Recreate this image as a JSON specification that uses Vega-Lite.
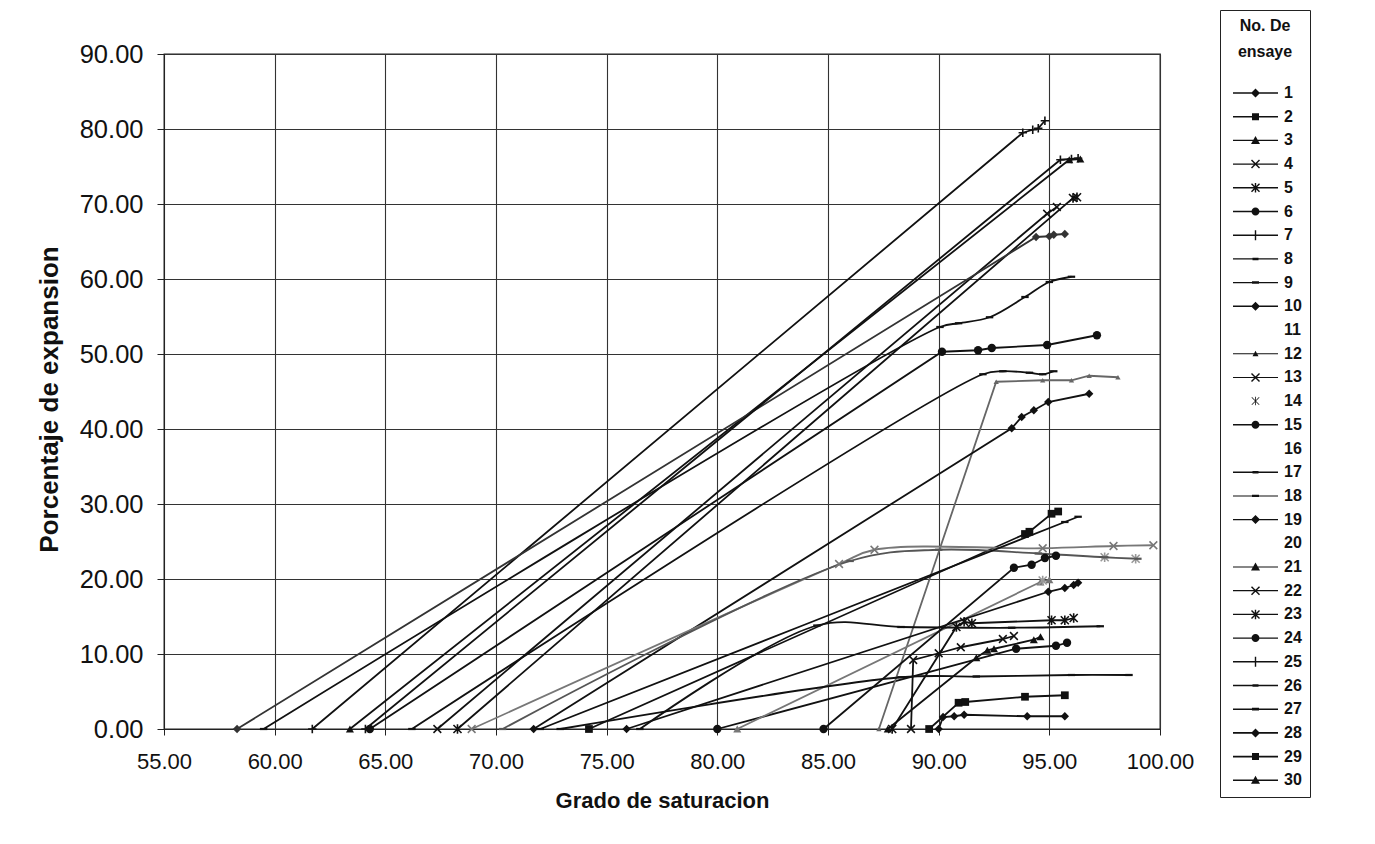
{
"$schema":"https://vega.github.io/schema/vega-lite/v6.json",
"width":996,"height":675,
"autosize":{"type":"none"},
"padding":{"left":164,"top":54,"right":215,"bottom":115},
"background":"white",
"config":{"font":"Liberation Sans","view":{"stroke":"#222","strokeWidth":1.3},
"axis":{"gridColor":"#333","gridWidth":1.1,"gridOpacity":1,"domainColor":"#222","tickColor":"#222","labelColor":"#111","titleColor":"#111","labelFont":"Liberation Sans","titleFont":"Liberation Sans"}},
"data":{"values":[
{"ensaye":"1","grado":90.0,"expansion":0},{"ensaye":"1","grado":90.2,"expansion":1.6},{"ensaye":"1","grado":90.7,"expansion":1.7},{"ensaye":"1","grado":91.15,"expansion":1.9},{"ensaye":"1","grado":94.0,"expansion":1.7},{"ensaye":"1","grado":95.7,"expansion":1.7},
{"ensaye":"2","grado":89.57,"expansion":0},{"ensaye":"2","grado":90.9,"expansion":3.5},{"ensaye":"2","grado":91.2,"expansion":3.6},{"ensaye":"2","grado":93.9,"expansion":4.3},{"ensaye":"2","grado":95.7,"expansion":4.5},
{"ensaye":"3","grado":63.4,"expansion":0},{"ensaye":"3","grado":95.9,"expansion":75.9},{"ensaye":"3","grado":96.4,"expansion":76.0},
{"ensaye":"4","grado":67.35,"expansion":0},{"ensaye":"4","grado":94.9,"expansion":68.7},{"ensaye":"4","grado":95.34,"expansion":69.6},
{"ensaye":"5","grado":68.26,"expansion":0},{"ensaye":"5","grado":96.07,"expansion":70.8},{"ensaye":"5","grado":96.25,"expansion":70.9},
{"ensaye":"6","grado":80.0,"expansion":0},{"ensaye":"6","grado":93.5,"expansion":10.7},{"ensaye":"6","grado":95.3,"expansion":11.1},{"ensaye":"6","grado":95.8,"expansion":11.5},
{"ensaye":"7","grado":61.7,"expansion":0},{"ensaye":"7","grado":93.8,"expansion":79.5},{"ensaye":"7","grado":94.25,"expansion":79.9},{"ensaye":"7","grado":94.5,"expansion":80.1},{"ensaye":"7","grado":94.8,"expansion":81.1},
{"ensaye":"8","grado":59.5,"expansion":0},{"ensaye":"8","grado":90.06,"expansion":53.6},{"ensaye":"8","grado":90.9,"expansion":54.1},{"ensaye":"8","grado":92.3,"expansion":54.9},{"ensaye":"8","grado":93.9,"expansion":57.6},{"ensaye":"8","grado":95.0,"expansion":59.6},{"ensaye":"8","grado":96.0,"expansion":60.3},
{"ensaye":"9","grado":66.2,"expansion":0},{"ensaye":"9","grado":92.0,"expansion":47.3},{"ensaye":"9","grado":92.9,"expansion":47.7},{"ensaye":"9","grado":94.1,"expansion":47.5},{"ensaye":"9","grado":94.7,"expansion":47.3},{"ensaye":"9","grado":95.2,"expansion":47.7},
{"ensaye":"10","grado":58.3,"expansion":0},{"ensaye":"10","grado":94.4,"expansion":65.6},{"ensaye":"10","grado":95.0,"expansion":65.7},{"ensaye":"10","grado":95.2,"expansion":65.9},{"ensaye":"10","grado":95.7,"expansion":66.0},
{"ensaye":"12","grado":87.3,"expansion":0},{"ensaye":"12","grado":92.6,"expansion":46.3},{"ensaye":"12","grado":94.7,"expansion":46.5},{"ensaye":"12","grado":96.0,"expansion":46.5},{"ensaye":"12","grado":96.8,"expansion":47.1},{"ensaye":"12","grado":98.1,"expansion":46.9},
{"ensaye":"13","grado":68.9,"expansion":0},{"ensaye":"13","grado":85.5,"expansion":22.0},{"ensaye":"13","grado":87.1,"expansion":23.9},{"ensaye":"13","grado":94.7,"expansion":24.1},{"ensaye":"13","grado":97.9,"expansion":24.4},{"ensaye":"13","grado":99.7,"expansion":24.5},
{"ensaye":"14","grado":94.7,"expansion":19.8},{"ensaye":"14","grado":97.5,"expansion":22.9},{"ensaye":"14","grado":98.9,"expansion":22.7},
{"ensaye":"15","grado":64.3,"expansion":0},{"ensaye":"15","grado":90.15,"expansion":50.3},{"ensaye":"15","grado":91.78,"expansion":50.5},{"ensaye":"15","grado":92.4,"expansion":50.8},{"ensaye":"15","grado":94.9,"expansion":51.2},{"ensaye":"15","grado":97.15,"expansion":52.5},
{"ensaye":"17","grado":72.9,"expansion":0},{"ensaye":"17","grado":88.3,"expansion":6.9},{"ensaye":"17","grado":91.7,"expansion":7.0},{"ensaye":"17","grado":96.0,"expansion":7.2},{"ensaye":"17","grado":98.6,"expansion":7.2},
{"ensaye":"18","grado":70.3,"expansion":0},{"ensaye":"18","grado":86.0,"expansion":22.4},{"ensaye":"18","grado":90.0,"expansion":23.9},{"ensaye":"18","grado":94.5,"expansion":23.4},{"ensaye":"18","grado":97.5,"expansion":22.9},{"ensaye":"18","grado":99.0,"expansion":22.7},
{"ensaye":"19","grado":71.7,"expansion":0},{"ensaye":"19","grado":93.3,"expansion":40.1},{"ensaye":"19","grado":93.75,"expansion":41.6},{"ensaye":"19","grado":94.3,"expansion":42.5},{"ensaye":"19","grado":94.95,"expansion":43.6},{"ensaye":"19","grado":96.8,"expansion":44.7},
{"ensaye":"21","grado":80.9,"expansion":0},{"ensaye":"21","grado":94.6,"expansion":19.6},{"ensaye":"21","grado":95.0,"expansion":19.9},
{"ensaye":"22","grado":88.75,"expansion":0},{"ensaye":"22","grado":88.85,"expansion":9.2},{"ensaye":"22","grado":90.0,"expansion":10.1},{"ensaye":"22","grado":91.0,"expansion":10.9},{"ensaye":"22","grado":92.9,"expansion":12.0},{"ensaye":"22","grado":93.4,"expansion":12.4},
{"ensaye":"23","grado":87.9,"expansion":0},{"ensaye":"23","grado":90.8,"expansion":13.6},{"ensaye":"23","grado":91.15,"expansion":14.3},{"ensaye":"23","grado":91.5,"expansion":14.1},{"ensaye":"23","grado":95.1,"expansion":14.5},{"ensaye":"23","grado":95.7,"expansion":14.5},{"ensaye":"23","grado":96.1,"expansion":14.8},
{"ensaye":"24","grado":84.8,"expansion":0},{"ensaye":"24","grado":93.4,"expansion":21.5},{"ensaye":"24","grado":94.2,"expansion":21.9},{"ensaye":"24","grado":94.8,"expansion":22.8},{"ensaye":"24","grado":95.3,"expansion":23.1},
{"ensaye":"25","grado":64.1,"expansion":0},{"ensaye":"25","grado":95.5,"expansion":75.9},{"ensaye":"25","grado":96.0,"expansion":76.0},{"ensaye":"25","grado":96.3,"expansion":76.1},
{"ensaye":"26","grado":76.5,"expansion":0},{"ensaye":"26","grado":84.5,"expansion":13.8},{"ensaye":"26","grado":88.3,"expansion":13.6},{"ensaye":"26","grado":93.3,"expansion":13.5},{"ensaye":"26","grado":97.3,"expansion":13.7},
{"ensaye":"27","grado":72.0,"expansion":0},{"ensaye":"27","grado":95.7,"expansion":27.6},{"ensaye":"27","grado":96.3,"expansion":28.3},
{"ensaye":"28","grado":75.9,"expansion":0},{"ensaye":"28","grado":94.95,"expansion":18.3},{"ensaye":"28","grado":95.7,"expansion":18.8},{"ensaye":"28","grado":96.1,"expansion":19.2},{"ensaye":"28","grado":96.3,"expansion":19.5},
{"ensaye":"29","grado":74.2,"expansion":0},{"ensaye":"29","grado":93.9,"expansion":26.0},{"ensaye":"29","grado":94.1,"expansion":26.3},{"ensaye":"29","grado":95.1,"expansion":28.7},{"ensaye":"29","grado":95.4,"expansion":29.0},
{"ensaye":"30","grado":87.7,"expansion":0},{"ensaye":"30","grado":91.7,"expansion":9.5},{"ensaye":"30","grado":92.2,"expansion":10.5},{"ensaye":"30","grado":92.5,"expansion":10.7},{"ensaye":"30","grado":94.3,"expansion":11.9},{"ensaye":"30","grado":94.6,"expansion":12.3}
]},
"encoding":{
"x":{"field":"grado","type":"quantitative","scale":{"domain":[55,100],"nice":false,"zero":false},
"axis":{"values":[55,60,65,70,75,80,85,90,95,100],"format":".2f","title":"Grado de saturacion","labelFontSize":22,"tickSize":6,"labelPadding":16,"titleFontSize":22,"titleFontWeight":"bold","titlePadding":18,"labelFlush":false,"labelOverlap":false,"grid":true}},
"y":{"field":"expansion","type":"quantitative","scale":{"domain":[0,90],"nice":false},
"axis":{"values":[0,10,20,30,40,50,60,70,80,90],"format":".2f","title":"Porcentaje de expansion","labelFontSize":25.5,"tickSize":7,"labelPadding":14,"titleFontSize":26,"titleFontWeight":"bold","titlePadding":17,"titleY":345,"labelFlush":false,"labelOverlap":false,"grid":true}},
"color":{"field":"ensaye","type":"nominal","scale":{"domain":["1","2","3","4","5","6","7","8","9","10","12","13","14","15","17","18","19","21","22","23","24","25","26","27","28","29","30"],"range":["#111","#111","#111","#111","#111","#111","#111","#111","#111","#333","#666","#777","#999","#111","#111","#555","#111","#777","#111","#111","#111","#111","#111","#111","#111","#111","#111"]},"legend":null}
},
"layer":[
{"transform":[{"filter":{"field":"ensaye","oneOf":["1","2","3","4","5","6","7","10","12","15","19","21","22","23","24","25","28","29","30"]}}],
"mark":{"type":"line"},
"encoding":{
"strokeWidth":{"field":"ensaye","type":"nominal","scale":{"domain":["1","2","3","4","5","6","7","8","9","10","12","13","14","15","17","18","19","21","22","23","24","25","26","27","28","29","30"],"range":[1.8,1.8,1.8,1.3,1.6,1.8,1.9,1.8,1.6,1.4,1.1,1.1,1,1.6,1.8,1.1,1.6,1.1,1.3,1.6,1.6,1.6,1.6,1.8,1.8,1.8,1.8]},"legend":null}}},
{"transform":[{"filter":{"field":"ensaye","oneOf":["8","9","13","17","18","26","27"]}}],
"mark":{"type":"line","interpolate":"catmull-rom"},
"encoding":{"strokeWidth":{"field":"ensaye","type":"nominal","legend":null}}},
{"transform":[{"filter":{"field":"ensaye","oneOf":["1","10","19","28"]}}],
"mark":{"type":"point","shape":"diamond","filled":true,"size":70,"opacity":1}},
{"transform":[{"filter":{"field":"ensaye","oneOf":["2","29"]}}],
"mark":{"type":"point","shape":"square","filled":true,"size":60,"opacity":1}},
{"transform":[{"filter":{"field":"ensaye","oneOf":["3","21","30"]}}],
"mark":{"type":"point","shape":"triangle-up","filled":true,"size":65,"opacity":1}},
{"transform":[{"filter":{"field":"ensaye","oneOf":["12"]}}],
"mark":{"type":"point","shape":"triangle-up","filled":true,"size":28,"opacity":1}},
{"transform":[{"filter":{"field":"ensaye","oneOf":["4","13","22"]}}],
"mark":{"type":"point","shape":"M-1,-1L1,1M-1,1L1,-1","filled":false,"strokeWidth":1.5,"size":60,"opacity":1}},
{"transform":[{"filter":{"field":"ensaye","oneOf":["5","14","23"]}}],
"mark":{"type":"point","shape":"M-1,-1L1,1M-1,1L1,-1M0,-1.2L0,1.2","filled":false,"strokeWidth":1.6,"size":65,"opacity":1}},
{"transform":[{"filter":{"field":"ensaye","oneOf":["6","15","24"]}}],
"mark":{"type":"point","shape":"circle","filled":true,"size":70,"opacity":1}},
{"transform":[{"filter":{"field":"ensaye","oneOf":["7","25"]}}],
"mark":{"type":"point","shape":"M-1,0L1,0M0,-1L0,1","filled":false,"strokeWidth":1.6,"size":70,"opacity":1}},
{"transform":[{"filter":{"field":"ensaye","oneOf":["8","9","17","18","26","27"]}}],
"mark":{"type":"point","shape":"M-1,-0.3L1,-0.3L1,0.3L-1,0.3Z","filled":true,"size":55,"opacity":1}},
{"mark":{"type":"point","filled":true,"fill":"#111","opacity":0,"size":100},
"encoding":{
"color":{"value":"#111"},
"shape":{"field":"ensaye","type":"nominal","scale":{"domain":["1","2","3","4","5","6","7","8","9","10","11","12","13","14","15","16","17","18","19","20","21","22","23","24","25","26","27","28","29","30"],
"range":[
"M-0.6,-0.14L8.4,-0.14L8.4,0.14L-0.6,0.14ZM3.9,-0.9L4.8,0L3.9,0.9L3,0Z",
"M-0.6,-0.14L8.4,-0.14L8.4,0.14L-0.6,0.14ZM3.2,-0.7L4.6,-0.7L4.6,0.7L3.2,0.7Z",
"M-0.6,-0.14L8.4,-0.14L8.4,0.14L-0.6,0.14ZM3.9,-0.9L4.8,0.7L3,0.7Z",
"M-0.6,-0.12L8.4,-0.12L8.4,0.12L-0.6,0.12ZM3.2,-0.9L4.8,0.7L4.6,0.9L3,-0.7ZM3,0.7L4.6,-0.9L4.8,-0.7L3.2,0.9Z",
"M-0.6,-0.14L8.4,-0.14L8.4,0.14L-0.6,0.14ZM3.2,-0.9L4.8,0.7L4.6,0.9L3,-0.7ZM3,0.7L4.6,-0.9L4.8,-0.7L3.2,0.9ZM3.76,-0.95L4.04,-0.95L4.04,0.95L3.76,0.95Z",
"M-0.6,-0.14L8.4,-0.14L8.4,0.14L-0.6,0.14ZM3.1,0A0.8,0.8 0 1,1 4.7,0A0.8,0.8 0 1,1 3.1,0Z",
"M-0.6,-0.14L8.4,-0.14L8.4,0.14L-0.6,0.14ZM3.76,-1L4.04,-1L4.04,1L3.76,1Z",
"M-0.6,-0.14L8.4,-0.14L8.4,0.14L-0.6,0.14ZM3.3,-0.25L4.5,-0.25L4.5,0.25L3.3,0.25Z",
"M-0.6,-0.14L8.4,-0.14L8.4,0.14L-0.6,0.14ZM3.2,-0.25L4.6,-0.25L4.6,0.25L3.2,0.25Z",
"M-0.6,-0.14L8.4,-0.14L8.4,0.14L-0.6,0.14ZM3.9,-0.9L4.8,0L3.9,0.9L3,0Z",
"M3.9,0L3.9,0Z",
"M-0.6,-0.1L8.4,-0.1L8.4,0.1L-0.6,0.1ZM3.9,-0.6L4.5,0.5L3.3,0.5Z",
"M-0.6,-0.1L8.4,-0.1L8.4,0.1L-0.6,0.1ZM3.2,-0.9L4.8,0.7L4.6,0.9L3,-0.7ZM3,0.7L4.6,-0.9L4.8,-0.7L3.2,0.9Z",
"M3.2,-0.8L4.7,0.7L4.6,0.8L3.1,-0.7ZM3.1,0.7L4.6,-0.8L4.7,-0.7L3.2,0.8ZM3.82,-0.85L3.98,-0.85L3.98,0.85L3.82,0.85Z",
"M-0.6,-0.14L8.4,-0.14L8.4,0.14L-0.6,0.14ZM3.1,0A0.8,0.8 0 1,1 4.7,0A0.8,0.8 0 1,1 3.1,0Z",
"M3.9,0L3.9,0Z",
"M-0.6,-0.14L8.4,-0.14L8.4,0.14L-0.6,0.14ZM3.3,-0.25L4.5,-0.25L4.5,0.25L3.3,0.25Z",
"M-0.6,-0.1L8.4,-0.1L8.4,0.1L-0.6,0.1ZM3.2,-0.22L4.6,-0.22L4.6,0.22L3.2,0.22Z",
"M-0.6,-0.14L8.4,-0.14L8.4,0.14L-0.6,0.14ZM3.9,-0.9L4.8,0L3.9,0.9L3,0Z",
"M3.9,0L3.9,0Z",
"M-0.6,-0.1L8.4,-0.1L8.4,0.1L-0.6,0.1ZM3.9,-0.9L4.8,0.7L3,0.7Z",
"M-0.6,-0.12L8.4,-0.12L8.4,0.12L-0.6,0.12ZM3.2,-0.9L4.8,0.7L4.6,0.9L3,-0.7ZM3,0.7L4.6,-0.9L4.8,-0.7L3.2,0.9Z",
"M-0.6,-0.14L8.4,-0.14L8.4,0.14L-0.6,0.14ZM3.2,-0.9L4.8,0.7L4.6,0.9L3,-0.7ZM3,0.7L4.6,-0.9L4.8,-0.7L3.2,0.9ZM3.76,-0.95L4.04,-0.95L4.04,0.95L3.76,0.95Z",
"M-0.6,-0.14L8.4,-0.14L8.4,0.14L-0.6,0.14ZM3.1,0A0.8,0.8 0 1,1 4.7,0A0.8,0.8 0 1,1 3.1,0Z",
"M-0.6,-0.14L8.4,-0.14L8.4,0.14L-0.6,0.14ZM3.76,-1L4.04,-1L4.04,1L3.76,1Z",
"M-0.6,-0.14L8.4,-0.14L8.4,0.14L-0.6,0.14ZM3.3,-0.25L4.5,-0.25L4.5,0.25L3.3,0.25Z",
"M-0.6,-0.16L8.4,-0.16L8.4,0.16L-0.6,0.16ZM3.2,-0.28L4.6,-0.28L4.6,0.28L3.2,0.28Z",
"M-0.6,-0.16L8.4,-0.16L8.4,0.16L-0.6,0.16ZM3.9,-0.9L4.8,0L3.9,0.9L3,0Z",
"M-0.6,-0.16L8.4,-0.16L8.4,0.16L-0.6,0.16ZM3.2,-0.7L4.6,-0.7L4.6,0.7L3.2,0.7Z",
"M-0.6,-0.16L8.4,-0.16L8.4,0.16L-0.6,0.16ZM3.9,-0.9L4.8,0.7L3,0.7Z"]},
"legend":{"title":["No. De","ensaye"],"orient":"none","legendX":1056,"legendY":-44,"direction":"vertical","titleFont":"Liberation Sans","titleFontSize":16,"titleFontWeight":"bold","titleAnchor":"middle","titleAlign":"center","titleColor":"#111","titleLineHeight":26,"titlePadding":25,"labelFont":"Liberation Sans","labelFontSize":16,"labelFontWeight":"bold","labelColor":"#111","labelOffset":40,"rowPadding":7.7,"padding":8,"strokeColor":"#222","fillColor":"white","symbolOpacity":1,"symbolSize":100,"symbolStrokeWidth":0,"symbolFillColor":"#111"}}}}
]
}
